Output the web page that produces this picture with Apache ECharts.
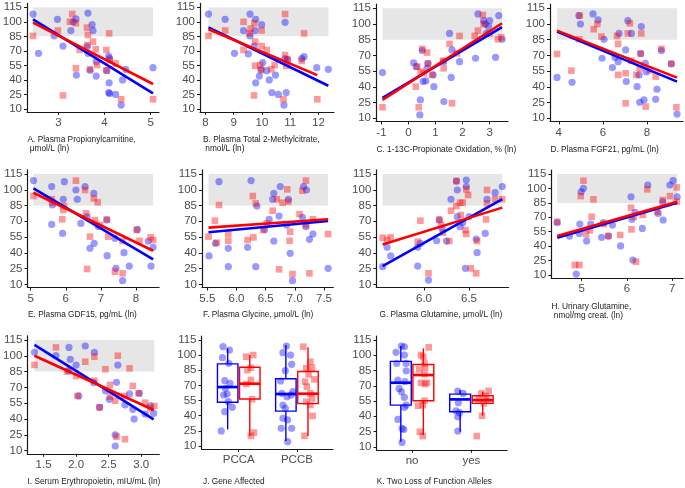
<!DOCTYPE html>
<html>
<head>
<meta charset="utf-8">
<script src="https://cdn.jsdelivr.net/npm/echarts@6/dist/echarts.min.js"></script>
<style>
html,body{margin:0;padding:0;background:#fff;}
#chart{width:685px;height:488px;}
</style>
</head>
<body>
<div id="chart"></div>
<script>
// ---------------- DATA ----------------
const yTicks = [10, 25, 40, 55, 70, 85, 100, 115];
const refBand = [85, 115];

const A_xTicks = [3, 4, 5];
const A_blue = [[2.45,108],[2.57,67.5],[2.91,85.4],[2.98,102.6],[3.10,75],[3.27,91],[3.32,100],[3.38,103],[3.39,45],[3.64,109],[3.64,67.5],[3.62,74.4],[3.73,97],[3.75,91],[3.69,50],[3.82,59],[3.82,44],[4.05,49.6],[4.09,64.7],[4.11,62],[4.10,37],[4.09,27],[4.11,26],[4.24,25],[4.39,40],[4.46,51],[4.36,14],[5.05,52.7]];
const A_red = [[2.45,85.4],[2.99,91],[3.30,108],[3.25,100],[3.38,98.5],[3.10,24],[3.38,52],[3.46,71],[3.62,94],[3.64,86.4],[3.63,76],[3.75,79.5],[3.81,71.6],[3.68,51],[3.84,55.4],[4.10,88],[4.04,71],[4.11,60.6],[4.24,57],[4.04,50],[4.36,20],[5.05,20]];
const A_fitBlue = [[2.45,102.6],[5.05,26.2]];
const A_fitRed = [[2.45,99.2],[5.05,35.8]];

const B_xTicks = [8, 9, 10, 11, 12];
const B_blue = [[8.11,108],[8.70,102.6],[9.03,67.5],[9.35,91],[9.52,66.8],[9.58,108],[9.58,85.4],[9.78,102.6],[9.76,91],[9.99,97],[9.73,75],[9.78,37],[9.91,44],[10.03,58],[9.97,51],[10.17,49.6],[10.26,40],[10.35,27],[10.48,45],[10.58,25],[10.78,14],[10.82,62],[10.82,99.5],[10.86,27],[10.91,61],[11.41,62],[11.49,64],[11.94,52.7],[12.35,51]];
const B_red = [[8.11,85.4],[8.70,91],[9.35,100],[9.35,71],[9.56,88],[9.60,93],[9.73,98.5],[9.99,91],[9.76,79.5],[9.99,75],[9.76,54.7],[9.72,24],[9.94,55.4],[9.97,50],[10.17,71],[10.45,55.4],[10.33,51],[10.82,108],[10.82,65.8],[10.86,54.4],[10.76,20],[10.90,61],[11.41,59.6],[11.49,88],[11.96,20]];
const B_fitBlue = [[8.11,94.3],[12.35,34]];
const B_fitRed = [[8.11,92.3],[11.96,45]];

const C_xTicks = [-1, 0, 1, 2, 3];
const C_blue = [[-0.96,53.6],[0.19,63],[0.29,59.3],[0.42,13.2],[0.44,27.5],[0.51,74.6],[0.54,45],[0.64,45.6],[0.69,57.7],[0.72,62.5],[0.94,40.2],[0.91,51.4],[1.31,25.9],[1.30,64],[1.52,91],[1.58,49],[1.61,75.2],[1.89,64],[2.48,67.3],[2.57,109.6],[2.78,103.2],[2.84,100],[2.96,97.5],[3.00,103.2],[3.22,68.2],[3.34,108],[3.46,85.4],[2.88,91]];
const C_red = [[-0.96,20.5],[0.27,40.2],[0.32,59.3],[0.38,20.5],[0.45,54.5],[0.51,76.2],[0.56,53],[0.69,72.7],[0.72,62],[0.88,51.4],[1.28,65],[1.30,57.7],[1.52,81],[1.61,24.3],[1.79,72],[1.89,88.6],[2.45,88.6],[2.57,93.7],[2.75,108.6],[2.78,100],[3.00,91],[3.31,85.4],[3.43,87.3]];
const C_fitBlue = [[-0.96,29.5],[3.46,97]];
const C_fitRed = [[-0.96,27.5],[3.46,100.7]];

const D_xTicks = [4, 6, 8];
const D_blue = [[3.92,49],[4.60,44.4],[4.91,108],[4.98,100],[5.55,109.6],[5.78,103.9],[5.96,67.3],[6.05,85.4],[6.43,58.4],[6.55,68.2],[6.69,64],[6.73,91],[7.03,75.2],[7.06,45],[7.13,103.2],[7.29,91],[7.55,40.2],[7.64,51.4],[7.67,25.3],[7.74,97.5],[7.71,72],[7.86,27.5],[7.92,62.5],[7.97,54.5],[8.39,28.1],[8.45,37.7],[8.65,74.6],[9.10,62],[9.36,14]];
const D_red = [[3.92,71.4],[4.57,55.5],[4.95,108],[4.92,85.4],[5.58,95],[5.75,100],[5.93,88],[6.64,88.6],[6.69,81],[6.69,51.4],[7.03,24.3],[7.03,53],[7.13,91],[7.22,100.7],[7.29,65],[7.52,51.4],[7.67,57.7],[7.71,71.4],[7.74,91],[7.94,21.2],[8.12,56],[8.39,49.8],[8.65,76.2],[9.10,62],[9.33,20.5]];
const D_fitBlue = [[3.92,92.7],[9.36,45]];
const D_fitRed = [[3.92,93.7],[9.36,48.8]];

const E_xTicks = [5, 6, 7, 8];
const E_blue = [[5.08,108.7],[5.60,103],[5.62,85.5],[5.60,67],[5.91,58.5],[5.93,91],[5.96,107.7],[6.29,99.8],[6.33,91],[6.43,68],[6.55,103],[6.61,74.4],[6.69,44.3],[6.80,96.6],[6.81,49],[6.93,65],[7.17,71.2],[7.18,37.3],[7.40,53.8],[7.43,25.2],[7.62,13.5],[7.66,40.1],[7.81,27.4],[8.04,62.3],[8.35,51.2],[8.43,27.4],[8.49,45.2]];
const E_red = [[5.08,94],[5.60,91],[5.63,87.7],[5.90,71.9],[5.93,80.7],[5.95,84.5],[6.29,108.7],[6.55,99.8],[6.58,77.6],[6.61,24.6],[6.69,55.4],[6.80,91.8],[6.83,71.2],[6.91,88],[6.98,66.5],[7.17,71.8],[7.21,55.4],[7.40,22],[7.62,20.5],[7.62,51.2],[8.02,61.7],[8.10,51.5],[8.42,54.7],[8.49,52.2]];
const E_fitBlue = [[5.08,101.4],[8.49,33.8]];
const E_fitRed = [[5.08,97.2],[8.49,42]];

const F_xTicks = [5.5, 6.0, 6.5, 7.0, 7.5];
const F_blue = [[5.53,37],[5.64,49],[5.70,107.7],[5.86,26.8],[5.86,44.3],[6.19,45.2],[6.25,108.7],[6.33,26.8],[6.35,84.5],[6.48,62.3],[6.56,71.8],[6.62,91],[6.64,96.6],[6.64,51.2],[6.73,75],[6.75,103],[6.86,66.5],[6.89,91],[6.92,39.5],[6.96,13.5],[7.13,73.8],[7.15,103],[7.20,99.8],[7.19,64.9],[7.25,52.8],[7.31,57.9],[7.57,25.2]];
const F_red = [[5.52,55.4],[5.63,70.6],[5.66,49.6],[5.70,85.5],[5.86,57.9],[5.86,51.5],[6.19,52.2],[6.29,54.7],[6.28,94],[6.33,87],[6.46,61.7],[6.52,68],[6.62,80.1],[6.69,91],[6.73,24.3],[6.79,87.7],[6.87,100.4],[6.89,88.7],[6.92,60.1],[6.91,51.5],[6.96,19.8],[7.08,76.9],[7.13,99.1],[7.19,108.7],[7.19,66.5],[7.25,20.5],[7.31,71.9],[7.57,57.9]];
const F_fitBlue = [[5.52,59.5],[7.57,70.3]];
const F_fitRed = [[5.52,64],[7.57,71.9]];

const G_xTicks = [6.0, 6.5];
const G_blue = [[5.54,26.8],[5.59,45.2],[5.63,37],[5.93,45.2],[5.93,27.4],[5.96,49],[6.05,14.1],[6.14,51.5],[6.17,71.2],[6.20,63.3],[6.25,51.2],[6.30,91],[6.36,108.3],[6.37,99.8],[6.37,74.4],[6.40,64.9],[6.43,68.7],[6.46,25.2],[6.47,103],[6.47,109.3],[6.50,74.4],[6.58,53.1],[6.59,40.1],[6.68,58.5],[6.70,91],[6.79,97.2],[6.87,103]];
const G_red = [[5.54,54.4],[5.59,52.2],[5.63,54.7],[5.93,50.6],[5.96,70.6],[6.05,20.5],[6.17,71.8],[6.19,66.5],[6.21,59.2],[6.28,51.2],[6.30,80.1],[6.36,84.5],[6.36,108.3],[6.40,87.7],[6.41,76],[6.43,87.7],[6.46,61.7],[6.47,57.9],[6.47,100.4],[6.49,95],[6.52,25.2],[6.58,20.5],[6.59,51.2],[6.70,99.8],[6.69,71.8],[6.70,87],[6.79,91],[6.87,91]];
const G_fitBlue = [[5.54,27.4],[6.87,91]];
const G_fitRed = [[5.54,48],[6.87,83]];

const H_xTicks = [5, 6, 7];
const H_blue = [[4.46,64.4],[4.73,50.5],[4.88,11],[4.95,53.3],[4.96,63],[4.99,96.6],[5.04,100.1],[5.11,45.4],[5.20,63],[5.44,49.2],[5.48,64.4],[5.59,50.5],[5.68,62],[5.86,40.2],[6.09,91.4],[6.11,67.9],[6.13,25.6],[6.18,75.2],[6.34,58.5],[6.46,103.6],[6.69,74.1],[6.79,86.2],[6.80,67.2],[6.95,103.6],[7.02,108.1],[7.11,91.4]];
const H_red = [[4.46,65.4],[4.85,20.4],[4.95,20.4],[4.98,92.1],[5.04,108.1],[5.10,52.6],[5.18,56.5],[5.26,88.7],[5.22,70.6],[5.49,63],[5.59,50.5],[5.85,51.6],[6.09,80],[6.10,57.5],[6.15,70.6],[6.20,23.9],[6.35,72.4],[6.45,99.1],[6.67,75.8],[6.79,88],[6.95,92.1],[7.10,101.1],[7.10,86.2]];
const H_fitBlue = [[4.46,48.8],[7.11,85.2]];
const H_fitRed = [[4.46,50.5],[7.11,86.2]];

const I_xTicks = [1.5, 2.0, 2.5, 3.0];
const I_blue = [[1.36,103.3],[1.69,100.1],[1.89,108],[1.91,96.7],[1.88,85.9],[2.00,91.3],[2.04,61.9],[2.14,109.3],[2.28,103.3],[2.27,74.5],[2.36,51.1],[2.45,66.9],[2.51,58.7],[2.62,74.8],[2.60,24.9],[2.60,14.4],[2.64,91.3],[2.75,53.3],[2.82,63.8],[2.87,49.2],[2.89,40],[2.97,64.4],[3.06,44.8],[3.14,52.4],[3.19,45.4]];
const I_red = [[1.36,91.3],[1.69,108],[1.86,85],[2.00,80.8],[2.14,94.4],[2.28,99.2],[2.28,76.4],[2.36,51.1],[2.45,87.2],[2.52,72.3],[2.52,61.2],[2.60,57.4],[2.62,23.3],[2.64,100.1],[2.75,20.8],[2.74,61.9],[2.82,88.1],[2.87,71.4],[2.96,64.4],[3.06,55.5],[3.14,50.2],[3.20,52.4],[2.02,61.9]];
const I_fitBlue = [[1.36,110.3],[3.19,39.7]];
const I_fitRed = [[1.36,100.1],[3.19,48.6]];

const J_categories = ['PCCA', 'PCCB'];
// box stats: [min, q1, median, q3, max]
const J_blueBox = [[26.4,53.3,68.4,91.4,106.8],[15,44.5,61.5,76.6,110]];
const J_redBox = [[19.9,56.6,71.7,88.1,100.1],[19.9,52,61.8,83.8,107.8]];
// jittered points: [position on category scale, value]
const J_blue = [[0.73,108.4],[0.72,97.5],[0.83,91.9],[0.76,74.7],[0.85,72.1],[0.77,67.1],[0.80,61.5],[0.74,60.5],[0.82,53.9],[0.89,48.3],[0.76,44],[0.70,24.9],[0.84,105],
  [1.76,102.5],[1.82,109.1],[1.89,100.1],[1.91,90.9],[1.80,84.6],[1.72,74.4],[1.74,62.2],[1.93,63.8],[1.90,60.5],[1.83,58.9],[1.76,50.6],[1.80,47.3],[1.76,37.4],[1.84,35.8],[1.73,27.5],[1.91,27.5],[1.84,14.3]];
const J_red = [[1.13,98.5],[1.25,100.1],[1.15,85.3],[1.21,87.6],[1.13,71.4],[1.21,75.4],[1.23,56.3],[1.26,23.3],[1.21,20],
  [2.11,108.4],[2.23,93.5],[2.26,87.6],[2.16,87],[2.20,81],[2.14,73.7],[2.30,76],[2.17,68.8],[2.23,62.2],[2.26,57.2],[2.16,53.9],[2.23,50.6],[2.27,39.8],[2.13,20]];

const K_categories = ['no', 'yes'];
const K_blueBox = [[14.9,51,73,94,109.1],[24.8,44.5,56.6,61.8,65.8]];
const K_redBox = [[21.5,55.3,80.6,91,106.8],[40.5,52.7,55.9,60.2,64.1]];
const K_blue = [[0.82,109.1],[0.87,108.4],[0.73,102.9],[0.87,100.2],[0.74,92],[0.90,92],[0.90,84.8],[0.76,75.6],[0.88,74],[0.78,67.4],[0.82,64.1],[0.87,58.6],[0.90,51],[0.87,48.7],[0.76,36.9],[0.83,28],[0.86,27],[0.83,14.3],
  [1.77,64.8],[1.86,62.5],[1.78,53.3],[1.74,45.4],[1.80,43.5],[1.77,39.5],[1.77,25.4]];
const K_red = [[1.28,107.8],[1.15,100.2],[1.19,98.6],[1.21,92],[1.12,86.1],[1.22,87.8],[1.21,81.5],[1.15,73],[1.22,71.7],[1.25,73],[1.21,55.3],[1.10,50.4],[1.18,51],[1.13,24.8],[1.18,20.5],
  [2.29,65.1],[2.17,62.5],[2.24,59.9],[2.13,56.6],[2.27,55.3],[2.21,52.7],[2.18,40.5],[2.09,20.5]];

// ---------------- LAYOUT ----------------
const FONT = '"Liberation Sans", Arial, sans-serif';
const BLUE_PT = 'rgba(0,0,255,0.5)';
const RED_PT = 'rgba(255,0,0,0.5)';
const Y_RANGE = [7, 119];

const scatterPanels = [
  {blue:A_blue, red:A_red, fb:A_fitBlue, fr:A_fitRed, ticks:A_xTicks, dec:0, x:[2.32,5.18], g:[27,3.4,132,108.5],
   title:'A. Plasma Propionylcarnitine,\n μmol/L (ln)', tp:[27.5,135.5]},
  {blue:B_blue, red:B_red, fb:B_fitBlue, fr:B_fitRed, ticks:B_xTicks, dec:0, x:[7.81,12.55], g:[200,3.4,134,108.5],
   title:'B. Plasma Total 2-Methylcitrate,\n nmol/L (ln)', tp:[203,135.5]},
  {blue:C_blue, red:C_red, fb:C_fitBlue, fr:C_fitRed, ticks:C_xTicks, dec:0, x:[-1.2,3.68], g:[376,4.1,132,117.3],
   title:'C. 1-13C-Propionate Oxidation, % (ln)', tp:[376.5,145.5]},
  {blue:D_blue, red:D_red, fb:D_fitBlue, fr:D_fitRed, ticks:D_xTicks, dec:0, x:[3.6,9.63], g:[550,4.1,133,117.3],
   title:'D. Plasma FGF21, pg/mL (ln)', tp:[550.5,145.5]},
  {blue:E_blue, red:E_red, fb:E_fitBlue, fr:E_fitRed, ticks:E_xTicks, dec:0, x:[4.91,8.66], g:[27.5,169.8,131.6,117.7],
   title:'E. Plasma GDF15, pg/mL (ln)', tp:[28,310.5]},
  {blue:F_blue, red:F_red, fb:F_fitBlue, fr:F_fitRed, ticks:F_xTicks, dec:1, x:[5.409,7.659], g:[202,169.8,131.3,117.7],
   title:'F. Plasma Glycine, μmol/L (ln)', tp:[203,310.5]},
  {blue:G_blue, red:G_red, fb:G_fitBlue, fr:G_fitRed, ticks:G_xTicks, dec:1, x:[5.47,6.94], g:[376.3,169.8,132.3,117.7],
   title:'G. Plasma Glutamine, μmol/L (ln)', tp:[379.5,310.5]},
  {blue:H_blue, red:H_red, fb:H_fitBlue, fr:H_fitRed, ticks:H_xTicks, dec:0, x:[4.33,7.24], g:[551.3,170.2,131.8,107.7],
   title:'H. Urinary Glutamine,\n nmol/mg creat. (ln)', tp:[551.5,302.2]},
  {blue:I_blue, red:I_red, fb:I_fitBlue, fr:I_fitRed, ticks:I_xTicks, dec:1, x:[1.25,3.277], g:[27.3,335.8,132,118],
   title:'I. Serum Erythropoietin, mIU/mL (ln)', tp:[27.5,477.5]}
];
const boxPanels = [
  {cats:J_categories, bb:J_blueBox, rb:J_redBox, blue:J_blue, red:J_red, x:[0.36,2.62], g:[201.5,336,131.5,113],
   title:'J. Gene Affected', tp:[203,477.5]},
  {cats:K_categories, bb:K_blueBox, rb:K_redBox, blue:K_blue, red:K_red, x:[0.4,2.6], g:[376.5,336,130.5,113.8],
   title:'K. Two Loss of Function Alleles', tp:[376.7,477.5]}
];

const grids = [], xAxes = [], yAxes = [], series = [], titles = [];

function axisCommon() {
  return {
    axisLine: {show: true, onZero: false, lineStyle: {color: '#1a1a1a', width: 1.2}},
    splitLine: {show: false},
    axisTick: {show: true, length: 3, lineStyle: {color: '#1a1a1a', width: 1}},
    axisLabel: {color: '#4d4d4d', fontSize: 11.5, fontFamily: FONT}
  };
}

function addFrame(p, gi, xTicks, fmt) {
  grids.push({left: p.g[0], top: p.g[1], width: p.g[2], height: p.g[3], outerBoundsMode: 'none', containLabel: false});
  const xa = axisCommon();
  xAxes.push(Object.assign({type: 'value', gridIndex: gi, min: p.x[0], max: p.x[1]}, xa, {
    axisTick: Object.assign({}, xa.axisTick, {customValues: xTicks}),
    axisLabel: Object.assign({}, xa.axisLabel, {customValues: xTicks, margin: 5, formatter: fmt, hideOverlap: false})
  }));
  const ya = axisCommon();
  yAxes.push(Object.assign({type: 'value', gridIndex: gi, min: Y_RANGE[0], max: Y_RANGE[1]}, ya, {
    axisTick: Object.assign({}, ya.axisTick, {customValues: yTicks}),
    axisLabel: Object.assign({}, ya.axisLabel, {customValues: yTicks, margin: 5})
  }));
  titles.push({text: p.title, left: p.tp[0], top: p.tp[1], padding: 0,
    textStyle: {fontSize: 8.3, fontWeight: 'normal', color: '#222', fontFamily: FONT, lineHeight: 9}});
}

scatterPanels.forEach((p, gi) => {
  const dec = p.dec;
  addFrame(p, gi, p.ticks, v => Number(v).toFixed(dec));
  const xs = p.blue.concat(p.red).map(d => d[0]);
  const xmin = Math.min(...xs), xmax = Math.max(...xs);
  series.push({type: 'scatter', xAxisIndex: gi, yAxisIndex: gi, data: [], z: 1, silent: true,
    markArea: {silent: true, itemStyle: {color: '#e6e6e6'},
      data: [[{coord: [xmin, refBand[0]]}, {coord: [xmax, refBand[1]]}]]}});
  series.push({type: 'scatter', xAxisIndex: gi, yAxisIndex: gi, data: p.blue, symbol: 'circle', symbolSize: 7.2,
    itemStyle: {color: BLUE_PT}, z: 2, silent: true});
  series.push({type: 'scatter', xAxisIndex: gi, yAxisIndex: gi, data: p.red, symbol: 'rect', symbolSize: 6.6,
    itemStyle: {color: RED_PT}, z: 2, silent: true});
  series.push({type: 'line', xAxisIndex: gi, yAxisIndex: gi, data: p.fb, showSymbol: false, silent: true,
    lineStyle: {color: '#0000ff', width: 2.6}, z: 3});
  series.push({type: 'line', xAxisIndex: gi, yAxisIndex: gi, data: p.fr, showSymbol: false, silent: true,
    lineStyle: {color: '#ff0000', width: 2.6}, z: 4});
});

function boxSeries(gi, stats, color, offset) {
  return {
    type: 'custom', xAxisIndex: gi, yAxisIndex: gi, z: 2, silent: true,
    data: stats.map((s, i) => [i + 1].concat(s)),
    encode: {x: 0, y: [1, 2, 3, 4, 5]},
    renderItem: function (params, api) {
      const c = api.value(0) + offset, hw = 0.176;
      const mn = api.value(1), q1 = api.value(2), md = api.value(3), q3 = api.value(4), mx = api.value(5);
      const tl = api.coord([c - hw, q3]), br = api.coord([c + hw, q1]);
      const ml = api.coord([c - hw, md]), mr = api.coord([c + hw, md]);
      const top = api.coord([c, mx]), pq3 = api.coord([c, q3]), pq1 = api.coord([c, q1]), bot = api.coord([c, mn]);
      const ls = {stroke: color, lineWidth: 1.4, fill: null};
      return {type: 'group', children: [
        {type: 'line', shape: {x1: top[0], y1: top[1], x2: pq3[0], y2: pq3[1]}, style: ls},
        {type: 'line', shape: {x1: pq1[0], y1: pq1[1], x2: bot[0], y2: bot[1]}, style: ls},
        {type: 'rect', shape: {x: tl[0], y: tl[1], width: br[0] - tl[0], height: br[1] - tl[1]},
          style: {stroke: color, lineWidth: 1.4, fill: 'rgba(255,255,255,0)'}},
        {type: 'line', shape: {x1: ml[0], y1: ml[1], x2: mr[0], y2: mr[1]}, style: {stroke: color, lineWidth: 2.7}}
      ]};
    }
  };
}

boxPanels.forEach((p, k) => {
  const gi = scatterPanels.length + k;
  const cats = p.cats;
  addFrame(p, gi, cats.map((c, i) => i + 1), v => cats[Math.round(v) - 1] || '');
  series.push(boxSeries(gi, p.bb, '#0000ff', -0.19));
  series.push(boxSeries(gi, p.rb, '#ff0000', 0.19));
  series.push({type: 'scatter', xAxisIndex: gi, yAxisIndex: gi, data: p.blue, symbol: 'circle', symbolSize: 7.2,
    itemStyle: {color: BLUE_PT}, z: 3, silent: true});
  series.push({type: 'scatter', xAxisIndex: gi, yAxisIndex: gi, data: p.red, symbol: 'rect', symbolSize: 6.6,
    itemStyle: {color: RED_PT}, z: 3, silent: true});
});

const chart = echarts.init(document.getElementById('chart'), null, {renderer: 'canvas'});
chart.setOption({
  animation: false,
  backgroundColor: '#ffffff',
  textStyle: {fontFamily: FONT},
  title: titles,
  grid: grids,
  xAxis: xAxes,
  yAxis: yAxes,
  series: series
});
</script>
</body>
</html>
